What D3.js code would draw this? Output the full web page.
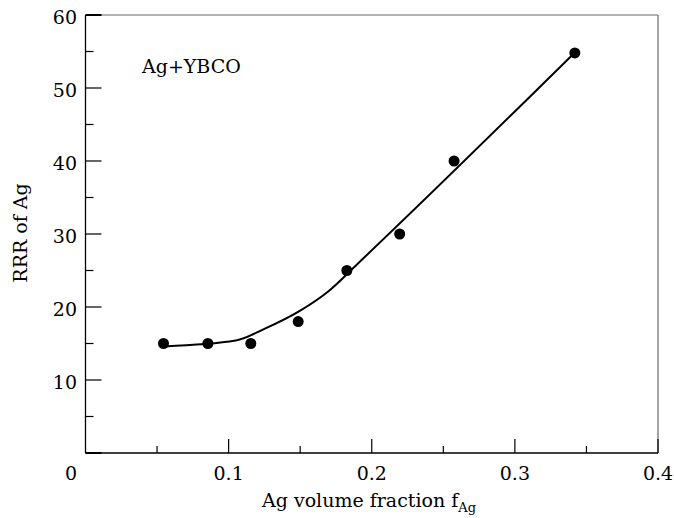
<!DOCTYPE html>
<html>
<head>
<meta charset="utf-8">
<script src="https://cdn.jsdelivr.net/npm/d3@7"></script>
<style>
  body { margin: 0; background: #fff; }
  text { font-family: "DejaVu Serif", serif; fill: #000; }
</style>
</head>
<body>
<svg id="vis" width="674" height="518"></svg>
<script>
// measured points
const fracAg = [0.0545, 0.0855, 0.1155, 0.1486, 0.1826, 0.2195, 0.2575, 0.3419];
const rrrAg = [15, 15, 15, 18, 25, 30, 40, 54.8];

// fitted curve drawn through the points
const curveX = [0.055, 0.105, 0.125, 0.15, 0.17, 0.19, 0.3405];
const curveY = [14.6, 15.4, 17.0, 19.5, 22.2, 25.9, 54.6];

const xTicks = [0, 0.1, 0.2, 0.3, 0.4];
const xMinor = [0.05, 0.15, 0.25, 0.35];
const yTicks = [0, 10, 20, 30, 40, 50, 60];
const yMinor = [5, 15, 25, 35, 45, 55];

const svg = d3.select("#vis");
const mLeft = 85.5, mRight = 658, mTop = 15, mBottom = 453;
const FONT = 19;
const xscale = d3.scaleLinear().domain([0, 0.4]).range([mLeft, mRight]);
const yscale = d3.scaleLinear().domain([0, 60]).range([mBottom, mTop]);

// frame: top and right are lighter
svg.append("line").attr("x1", mLeft).attr("x2", mRight).attr("y1", mTop).attr("y2", mTop)
    .attr("stroke", "#666").attr("stroke-width", 1.2);
svg.append("line").attr("x1", mRight).attr("x2", mRight).attr("y1", mTop).attr("y2", mBottom)
    .attr("stroke", "#666").attr("stroke-width", 1.2);
svg.append("line").attr("x1", mLeft).attr("x2", mLeft).attr("y1", mTop).attr("y2", mBottom)
    .attr("stroke", "#000").attr("stroke-width", 1.3);
svg.append("line").attr("x1", mLeft).attr("x2", mRight).attr("y1", mBottom).attr("y2", mBottom)
    .attr("stroke", "#000").attr("stroke-width", 1.3);

// y ticks pointing inward
svg.selectAll(".ytick").data(yTicks).join("line")
    .attr("class", "ytick")
    .attr("x1", mLeft).attr("x2", mLeft + 16)
    .attr("y1", d => yscale(d)).attr("y2", d => yscale(d))
    .attr("stroke", "#000").attr("stroke-width", d => (d === 0 || d === 60) ? 2 : 1.2);
svg.selectAll(".yminor").data(yMinor).join("line")
    .attr("class", "yminor")
    .attr("x1", mLeft).attr("x2", mLeft + 8)
    .attr("y1", d => yscale(d)).attr("y2", d => yscale(d))
    .attr("stroke", "#000").attr("stroke-width", 1.2);
svg.selectAll(".ylab").data(yTicks.filter(d => d > 0)).join("text")
    .attr("class", "ylab")
    .attr("x", mLeft - 8.5).attr("y", d => yscale(d) + 8.5)
    .attr("text-anchor", "end")
    .style("font-size", FONT + "px")
    .text(d => d);

// x ticks pointing up
svg.selectAll(".xtick").data(xTicks.filter(d => d > 0)).join("line")
    .attr("class", "xtick")
    .attr("x1", d => xscale(d)).attr("x2", d => xscale(d))
    .attr("y1", mBottom).attr("y2", mBottom - 14)
    .attr("stroke", "#000").attr("stroke-width", 1.2);
svg.selectAll(".xminor").data(xMinor).join("line")
    .attr("class", "xminor")
    .attr("x1", d => xscale(d)).attr("x2", d => xscale(d))
    .attr("y1", mBottom).attr("y2", mBottom - 7)
    .attr("stroke", "#000").attr("stroke-width", 1.2);
svg.selectAll(".xlab").data(xTicks).join("text")
    .attr("class", "xlab")
    .attr("x", d => d === 0 ? xscale(d) - 14.5 : xscale(d))
    .attr("y", 480)
    .attr("text-anchor", "middle")
    .style("font-size", FONT + "px")
    .text(d => d === 0 ? "0" : d3.format(".1f")(d));

// axis titles
const xt = svg.append("text")
    .attr("x", 262).attr("y", 507)
    .style("font-size", FONT + "px");
xt.append("tspan").text("Ag volume fraction f");
xt.append("tspan").attr("dy", 5).style("font-size", "13px").text("Ag");

svg.append("text")
    .attr("transform", "translate(27,233) rotate(-90)")
    .attr("text-anchor", "middle")
    .style("font-size", FONT + "px")
    .text("RRR of Ag");

svg.append("text")
    .attr("x", 142).attr("y", 72.5)
    .style("font-size", FONT + "px")
    .text("Ag+YBCO");

// curve
const curve = curveX.map((x, i) => ({x: x, y: curveY[i]}));
svg.append("path")
    .datum(curve)
    .attr("fill", "none")
    .attr("stroke", "#000")
    .attr("stroke-width", 2)
    .attr("d", d3.line().x(d => xscale(d.x)).y(d => yscale(d.y)).curve(d3.curveMonotoneX));

// points
const pts = fracAg.map((x, i) => ({x: x, y: rrrAg[i], id: i}));
svg.selectAll(".points").data(pts, d => d.id).join("circle")
    .attr("class", "points")
    .attr("cx", d => xscale(d.x))
    .attr("cy", d => yscale(d.y))
    .attr("r", 5.5)
    .attr("fill", "#000");
</script>
</body>
</html>
